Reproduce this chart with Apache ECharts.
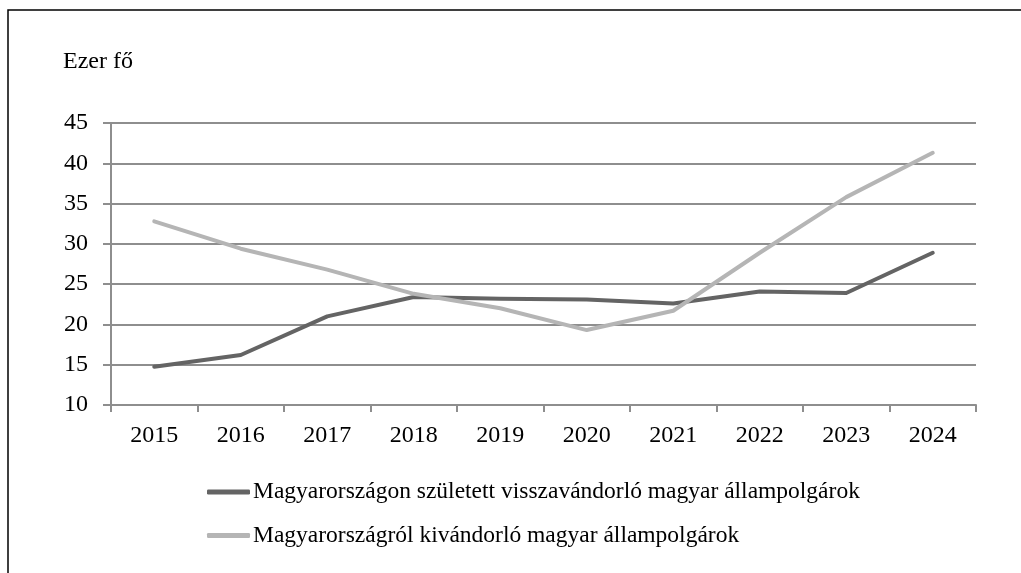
<!DOCTYPE html>
<html>
<head>
<meta charset="utf-8">
<script src="https://cdn.jsdelivr.net/npm/echarts@6/dist/echarts.min.js"></script>
<style>
html,body{margin:0;padding:0;background:#fff;}
#c{width:1021px;height:573px;}
</style>
</head>
<body>
<div id="c"></div>
<script>
var categories = ['2015','2016','2017','2018','2019','2020','2021','2022','2023','2024'];
var returningName = 'Magyarországon született visszavándorló magyar állampolgárok';
var returning = [14.75, 16.2, 21.0, 23.4, 23.2, 23.1, 22.6, 24.1, 23.9, 28.9];
var emigratingName = 'Magyarországról kivándorló magyar állampolgárok';
var emigrating = [32.8, 29.4, 26.8, 23.8, 22.0, 19.3, 21.7, 28.9, 35.8, 41.3];
var yTicks = {min: 10, max: 45, interval: 5};
var unitLabel = 'Ezer fő';

var font = 'Liberation Serif';
var chart = echarts.init(document.getElementById('c'), null, {renderer: 'canvas'});
chart.setOption({
  animation: false,
  backgroundColor: '#fff',
  textStyle: {fontFamily: font, color: '#000'},
  graphic: [
    {type: 'rect', shape: {x: 8, y: 10, width: 1100, height: 700},
     style: {fill: null, stroke: '#000', lineWidth: 1.5}, silent: true},
    {type: 'text', left: 63, top: 50,
     style: {text: unitLabel, font: '24px "Liberation Serif"', fill: '#000'}}
  ],
  grid: {left: 111, right: 45, top: 123, bottom: 168},
  legend: {
    orient: 'vertical', left: 202, top: 475, itemGap: 19.5,
    itemWidth: 43, itemHeight: 5, icon: 'roundRect',
    textStyle: {fontFamily: font, fontSize: 23.5, color: '#000', padding: [0,0,0,-2]},
    data: [{name: returningName}, {name: emigratingName}]
  },
  xAxis: {
    type: 'category', data: categories, boundaryGap: true,
    axisLine: {lineStyle: {color: '#8e8e8e', width: 2}},
    axisTick: {show: true, length: 7, lineStyle: {color: '#8e8e8e', width: 2}},
    axisLabel: {fontFamily: font, fontSize: 24, color: '#000', margin: 19}
  },
  yAxis: {
    type: 'value', min: yTicks.min, max: yTicks.max, interval: yTicks.interval,
    axisLine: {show: true, lineStyle: {color: '#8e8e8e', width: 2}},
    axisTick: {show: true, length: 8, lineStyle: {color: '#8e8e8e', width: 2}},
    axisLabel: {fontFamily: font, fontSize: 24, color: '#000', margin: 23},
    splitLine: {show: true, lineStyle: {color: '#8e8e8e', width: 2}}
  },
  series: [
    {name: returningName, type: 'line', data: returning, showSymbol: false, symbol: 'none',
     lineStyle: {color: '#646464', width: 4, cap: 'round', join: 'round'}, itemStyle: {color: '#646464'}},
    {name: emigratingName, type: 'line', data: emigrating, showSymbol: false, symbol: 'none',
     lineStyle: {color: '#b5b5b5', width: 4, cap: 'round', join: 'round'}, itemStyle: {color: '#b5b5b5'}}
  ]
});
</script>
</body>
</html>
